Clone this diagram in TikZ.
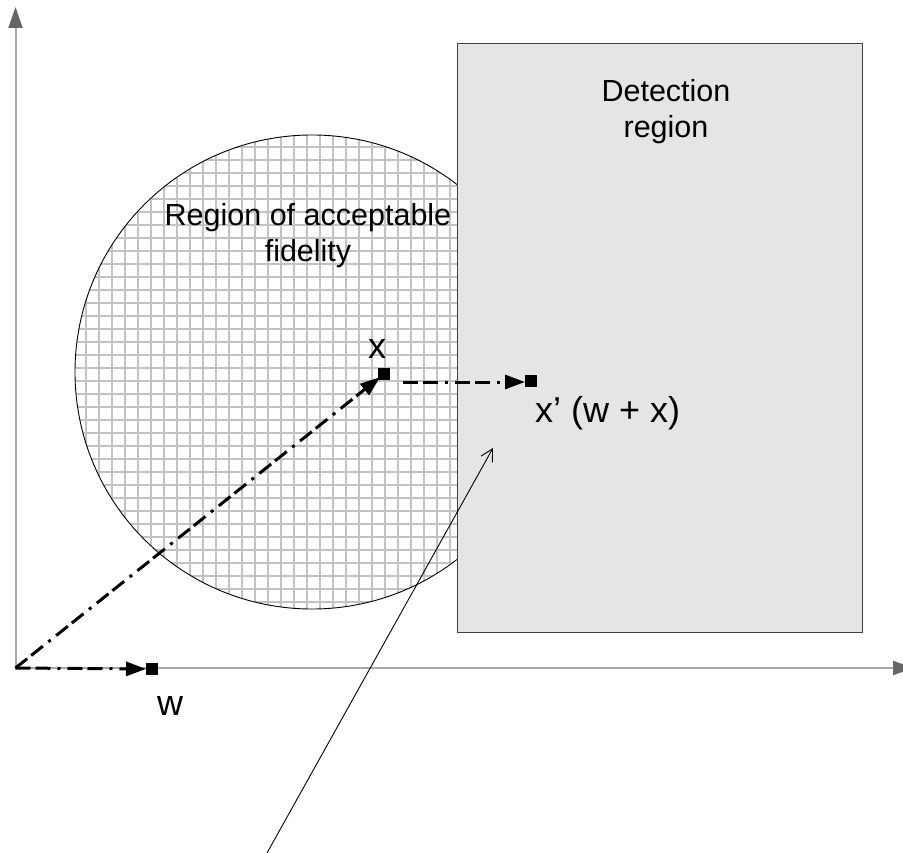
\documentclass[tikz,border=0pt]{standalone}
\usepackage{fontspec}
\setmainfont{Liberation Sans}
\usetikzlibrary{arrows.meta,calc}
\definecolor{axline}{HTML}{A8A8A8}
\definecolor{axhead}{HTML}{666666}
\definecolor{detfill}{HTML}{E5E5E5}
\definecolor{gridc}{HTML}{C2C2C2}
\begin{document}
\begin{tikzpicture}[x=1pt,y=-1pt,
  vecline/.style={line width=3pt, dash pattern=on 15pt off 5pt on 15pt off 7pt on 3pt off 7pt,
    -{Triangle[length=20pt,width=14pt]}},
  ptbox/.style={fill=black, minimum size=12pt, inner sep=0pt, outer sep=0pt},
  lbl/.style={font=\fontsize{36}{42}\selectfont, inner sep=0pt, anchor=base},
  bigtxt/.style={font=\fontsize{30.5}{36.5}\selectfont, align=center, inner sep=0pt, anchor=base},
  axisline/.style={draw=axline, -{Triangle[length=21pt,width=14pt,color=axhead]}},
  gridline/.style={draw=gridc, line width=1.6pt},
  annot/.style={line width=0.9pt, -{Straight Barb[length=12pt,width=13pt]}}]
\useasboundingbox (0,0) rectangle (903,853);
% axes
\coordinate (o) at (15.5,668);
\coordinate (ytip) at (15.5,7);
\coordinate (xtip) at (914,668);
\draw[axisline, line width=2pt] (o) -- (ytip);
\draw[axisline, line width=1.5pt] (o) -- (xtip);
% region of acceptable fidelity
\node[circle, fill=white, minimum size=474pt, inner sep=0pt] (fid) at (312,372) {};
\begin{scope}
  \clip (fid.center) circle[radius=237pt];
  \foreach \k in {5,...,42} { \draw[gridline] (8+13*\k,120) -- (8+13*\k,620); }
  \foreach \k in {9,...,47} { \draw[gridline] (60,4+13*\k) -- (560,4+13*\k); }
\end{scope}
\draw[line width=0.9pt] (fid.center) circle[radius=237pt];
% detection region
\node[draw=black!75, line width=1pt, fill=detfill, minimum width=405pt, minimum height=589pt,
  anchor=north west, inner sep=0pt] (det) at (457,43) {};
\node[bigtxt] (dettxt) at (666,138) {Detection\\region};
\node[bigtxt] (fidtxt) at (308,262) {Region of acceptable\\fidelity};
% points
\node[ptbox] (xpt) at (384,374) {};
\node[ptbox] (xppt) at (531,381) {};
\node[ptbox] (wpt) at (152,669) {};
\coordinate (xstart) at (403,382);
\node[lbl] (xlbl) at (377,358) {x};
\node[lbl] (wlbl) at (170,715) {w};
\node[lbl, anchor=base west] (xplbl) at (535,422) {x’ (w + x)};
% vectors
\draw[vecline, shorten >=5pt] (o) -- (xpt.center);
\draw[vecline] (o) -- (wpt.west);
\draw[vecline] (xstart) -- (xppt.west |- xstart);
% annotation arrow
\coordinate (ann1) at (267,853);
\coordinate (ann2) at (493,448);
\draw[annot] (ann1) -- (ann2);
\end{tikzpicture}
\end{document}
